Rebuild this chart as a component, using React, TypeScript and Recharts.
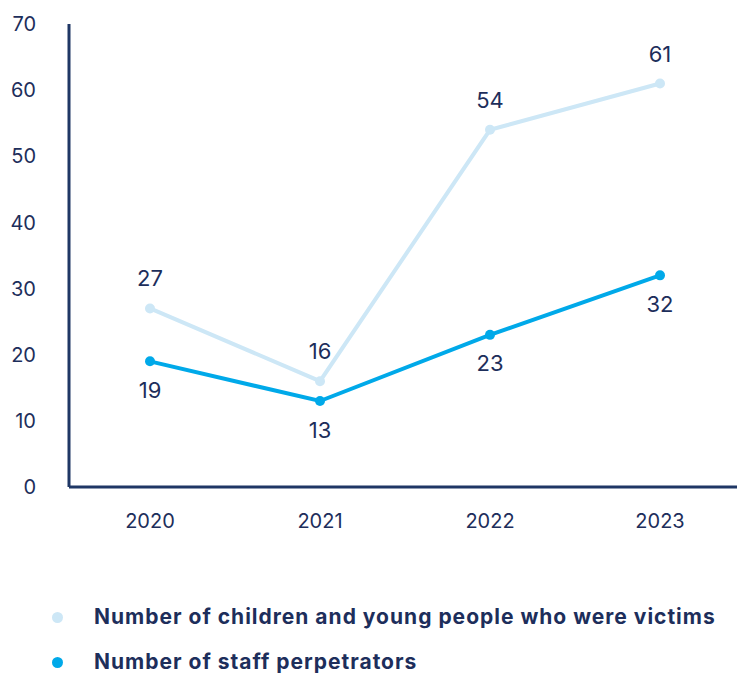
import { LineChart, Line, XAxis, YAxis, LabelList } from 'recharts';

const years = ['2020', '2021', '2022', '2023'];
const victims = [27, 16, 54, 61];
const perpetrators = [19, 13, 23, 32];
const yTicks = [0, 10, 20, 30, 40, 50, 60, 70];

const NAVY = '#1d2e5b';
const AXIS = '#1f3765';
const LIGHT = '#cde7f6';
const BLUE = '#00a9e9';
const FONT = 'Inter, "Open Sans", sans-serif';

const data = years.map((y, i) => ({ year: y, victims: victims[i], perpetrators: perpetrators[i] }));

const legendItems = [
    { label: 'Number of children and young people who were victims', color: LIGHT },
    { label: 'Number of staff perpetrators', color: BLUE },
];

export default function App() {
    return (
        <div style={{ position: 'absolute', left: 0, top: 0, width: 737, height: 673, background: '#fff', fontFamily: FONT }}>
            <LineChart width={737} height={560} data={data} margin={{ top: 24, right: 0, left: 0, bottom: 13 }}>
                <XAxis
                    dataKey="year"
                    height={60}
                    padding={{ left: 81, right: 77 }}
                    axisLine={{ stroke: AXIS, strokeWidth: 3 }}
                    tickLine={false}
                    tickSize={0}
                    tickMargin={27}
                    tick={{ fontSize: 20, fill: NAVY, fontFamily: FONT }}
                />
                <YAxis
                    width={69}
                    domain={[0, 70]}
                    ticks={yTicks}
                    interval={0}
                    axisLine={{ stroke: AXIS, strokeWidth: 3 }}
                    tickLine={false}
                    tickSize={0}
                    tickMargin={33}
                    tick={{ fontSize: 20, fill: NAVY, fontFamily: FONT }}
                />
                <Line
                    dataKey="victims"
                    stroke={LIGHT}
                    strokeWidth={4}
                    dot={{ r: 5, fill: LIGHT, stroke: LIGHT, strokeWidth: 0 }}
                    isAnimationActive={false}
                >
                    <LabelList dataKey="victims" position="top" offset={22} style={{ fontSize: 22, fill: NAVY, fontFamily: FONT }} />
                </Line>
                <Line
                    dataKey="perpetrators"
                    stroke={BLUE}
                    strokeWidth={4}
                    dot={{ r: 5, fill: BLUE, stroke: BLUE, strokeWidth: 0 }}
                    isAnimationActive={false}
                >
                    <LabelList dataKey="perpetrators" position="bottom" offset={21} style={{ fontSize: 22, fill: NAVY, fontFamily: FONT }} />
                </Line>
            </LineChart>
            {legendItems.map((it, i) => (
                <div
                    key={it.label}
                    style={{ position: 'absolute', left: 52, top: 603 + i * 45, display: 'flex', alignItems: 'center' }}
                >
                    <span style={{ width: 11, height: 11, borderRadius: '50%', background: it.color, display: 'inline-block' }} />
                    <span style={{ marginLeft: 31, fontSize: 21, fontWeight: 700, letterSpacing: 1, color: NAVY, lineHeight: '28px' }}>{it.label}</span>
                </div>
            ))}
        </div>
    );
}
